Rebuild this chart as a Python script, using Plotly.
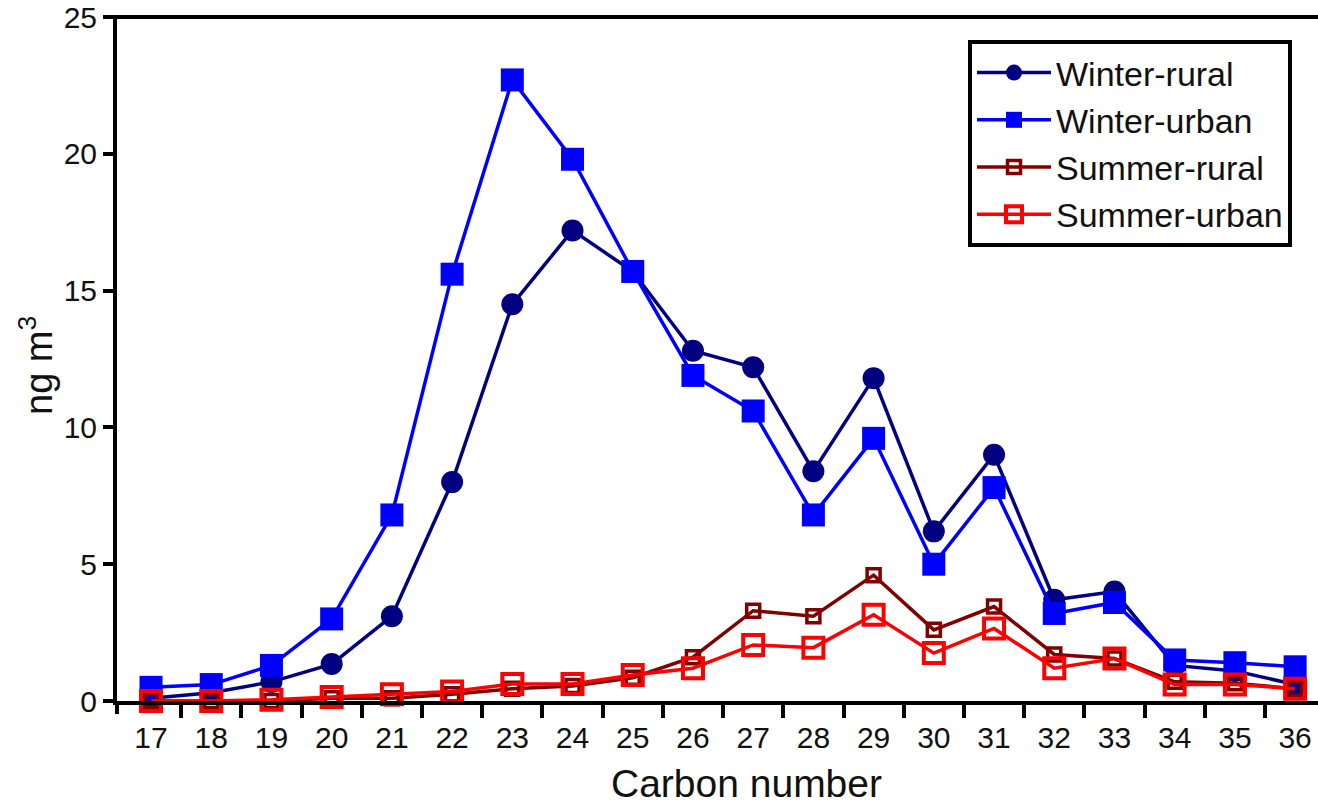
import plotly.graph_objects as go

carbon = list(range(17, 37))
tick_labels = [str(c) for c in carbon]

winter_rural = [0.1, 0.3, 0.7, 1.35, 3.1, 8.0, 14.5, 17.2, 15.7, 12.8, 12.2, 8.4, 11.8, 6.2, 9.0, 3.7, 4.0, 1.3, 1.1, 0.6]
winter_urban = [0.5, 0.6, 1.3, 3.0, 6.8, 15.6, 22.7, 19.8, 15.7, 11.9, 10.6, 6.8, 9.6, 5.0, 7.8, 3.2, 3.6, 1.5, 1.4, 1.25]
summer_rural = [0.0, 0.0, 0.0, 0.1, 0.1, 0.25, 0.45, 0.55, 0.85, 1.6, 3.3, 3.1, 4.6, 2.6, 3.45, 1.7, 1.55, 0.7, 0.65, 0.45]
summer_urban = [0.0, 0.0, 0.05, 0.15, 0.25, 0.35, 0.62, 0.62, 0.95, 1.2, 2.05, 1.95, 3.15, 1.75, 2.65, 1.2, 1.55, 0.6, 0.6, 0.45]

y_ticks = [0, 5, 10, 15, 20, 25]

FONT = "Liberation Sans, Arial, sans-serif"

fig = go.Figure()
fig.add_trace(go.Scatter(
    x=carbon, y=winter_rural, name="Winter-rural", mode="lines+markers",
    line=dict(color="#000080", width=3.5),
    marker=dict(symbol="circle", size=22, color="#000080"),
    cliponaxis=False))
fig.add_trace(go.Scatter(
    x=carbon, y=winter_urban, name="Winter-urban", mode="lines+markers",
    line=dict(color="#0000FF", width=3.5),
    marker=dict(symbol="square", size=23, color="#0000FF"),
    cliponaxis=False))
fig.add_trace(go.Scatter(
    x=carbon, y=summer_rural, name="Summer-rural", mode="lines+markers",
    line=dict(color="#800000", width=3.5),
    marker=dict(symbol="square-open", size=13, color="#800000", line=dict(width=3.5, color="#800000")),
    cliponaxis=False))
fig.add_trace(go.Scatter(
    x=carbon, y=summer_urban, name="Summer-urban", mode="lines+markers",
    line=dict(color="#FF0000", width=3.5),
    marker=dict(symbol="square-open", size=20, color="#FF0000", line=dict(width=4, color="#FF0000")),
    cliponaxis=False))

L, R, T, B = 117, 0, 17, 102
W, H = 1318, 803
pw = W - L - R
ph = H - T - B

x0 = 16.435
x1 = 36.38

fig.update_xaxes(
    range=[x0, x1], automargin=False,
    tickvals=carbon, ticktext=tick_labels, ticks="",
    ticklabelstandoff=7,
    tickfont=dict(family=FONT, size=30, color="#111111"),
    showline=True, linewidth=4, linecolor="black", mirror=False,
    showgrid=False, zeroline=False,
    minor=dict(tickvals=[c + 0.5 for c in carbon[:-1]], ticks="outside",
               ticklen=13, tickwidth=4, tickcolor="black", showgrid=False),
)
fig.update_yaxes(
    range=[0, 25], tickvals=y_ticks, automargin=False,
    ticks="outside", ticklen=10, tickwidth=4, tickcolor="black",
    tickfont=dict(family=FONT, size=30, color="#111111"),
    showline=True, linewidth=4, linecolor="black", mirror=False,
    showgrid=False, zeroline=False,
)

def px(xp):
    return (xp - L) / pw

def py(yp):
    return (H - B - yp) / ph

# top frame line and the y-axis line's short extension below the x axis
fig.add_shape(type="line", xref="paper", yref="paper", x0=px(107), x1=1.0, y0=1, y1=1,
              line=dict(color="black", width=4))
fig.add_shape(type="line", xref="paper", yref="paper", x0=0, x1=0, y0=0, y1=py(714),
              line=dict(color="black", width=4))

fig.add_annotation(text="Carbon number", xref="paper", yref="paper",
                   x=px(746), y=py(783), xanchor="center", yanchor="middle",
                   showarrow=False, font=dict(family=FONT, size=39, color="#111111"))
fig.add_annotation(text="ng m<sup>3</sup>", xref="paper", yref="paper",
                   x=px(36), y=py(366), xanchor="center", yanchor="middle", textangle=-90,
                   showarrow=False, font=dict(family=FONT, size=38, color="#111111"))

fig.update_layout(
    width=W, height=H,
    margin=dict(l=L, r=R, t=T, b=B, pad=0, autoexpand=False),
    paper_bgcolor="white", plot_bgcolor="white",
    showlegend=True,
    legend=dict(x=px(968), y=py(40), xanchor="left", yanchor="top",
                bgcolor="white", bordercolor="black", borderwidth=4,
                font=dict(family=FONT, size=34, color="#111111"),
                itemwidth=74, tracegroupgap=0),
)

fig.write_html("out.html")
